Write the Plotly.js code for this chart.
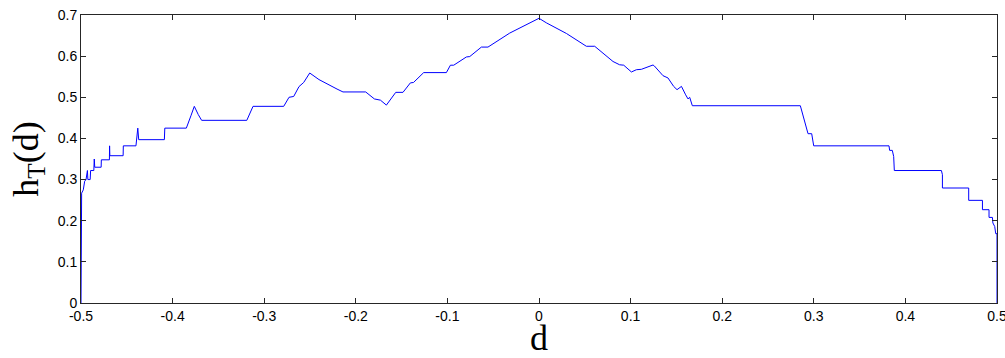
<!DOCTYPE html>
<html>
<head>
<meta charset="utf-8">
<script src="https://cdn.plot.ly/plotly-3.0.1.min.js"></script>
<style>html,body{margin:0;padding:0;background:#fff;}#chart{width:1005px;height:358px;}</style>
</head>
<body>
<div id="chart"></div>
<script>
// d values (x) and h_T(d) values (y)
const dValues = [
  -0.5, -0.5, -0.4993, -0.4975, -0.4960, -0.4945, -0.4930, -0.4925, -0.4900, -0.4895,
  -0.4860, -0.4855, -0.4850, -0.4780, -0.4778, -0.4690, -0.4688, -0.4685, -0.4540, -0.4538,
  -0.4400, -0.4380, -0.4370, -0.4090, -0.4085, -0.3850, -0.3800, -0.3763, -0.3720, -0.3683,
  -0.3190, -0.3122, -0.2787, -0.2729, -0.2678, -0.2620, -0.2569, -0.2503, -0.2402, -0.2321,
  -0.2249, -0.2205, -0.2140, -0.1892, -0.1797, -0.1731, -0.1666, -0.1564, -0.1485, -0.1404,
  -0.1370, -0.1259, -0.1011, -0.0967, -0.0931, -0.0793, -0.0756, -0.0629, -0.0557, -0.0320,
  0.0, 0.0080, 0.0300, 0.0517, 0.0608, 0.0736, 0.0808, 0.0880, 0.0925, 0.1009,
  0.1063, 0.1118, 0.1245, 0.1260, 0.1354, 0.1408, 0.1470, 0.1507, 0.1555, 0.1601,
  0.1627, 0.1645, 0.1674, 0.2853, 0.2868, 0.2882, 0.2900, 0.2919, 0.2937, 0.2977,
  0.2985, 0.2999, 0.3821, 0.3828, 0.3857, 0.3872, 0.3879, 0.4393, 0.4404, 0.4404,
  0.4691, 0.4691, 0.4841, 0.4841, 0.4913, 0.4913, 0.4950, 0.4955, 0.4975, 0.4986,
  0.5, 0.5
];
const hValues = [
  0, 0.251, 0.267, 0.275, 0.296, 0.300, 0.322, 0.300, 0.300, 0.322,
  0.322, 0.350, 0.330, 0.330, 0.348, 0.348, 0.382, 0.358, 0.358, 0.382,
  0.382, 0.425, 0.397, 0.397, 0.425, 0.425, 0.455, 0.478, 0.458, 0.444,
  0.444, 0.478, 0.478, 0.500, 0.502, 0.526, 0.536, 0.559, 0.543, 0.533,
  0.526, 0.520, 0.513, 0.513, 0.496, 0.493, 0.481, 0.512, 0.512, 0.535,
  0.536, 0.560, 0.560, 0.578, 0.578, 0.598, 0.599, 0.622, 0.622, 0.656,
  0.692, 0.681, 0.655, 0.624, 0.624, 0.599, 0.587, 0.579, 0.578, 0.5615,
  0.567, 0.568, 0.5785, 0.576, 0.5525, 0.547, 0.5265, 0.5185, 0.5265, 0.506,
  0.496, 0.500, 0.4795, 0.4795, 0.466, 0.4535, 0.4375, 0.421, 0.4115, 0.4115,
  0.397, 0.382, 0.382, 0.371, 0.371, 0.356, 0.322, 0.322, 0.312, 0.2795,
  0.2795, 0.2495, 0.2495, 0.2268, 0.2268, 0.208, 0.208, 0.1945, 0.186, 0.1685,
  0.1685, 0
];
const xTickVals = [-0.5, -0.4, -0.3, -0.2, -0.1, 0, 0.1, 0.2, 0.3, 0.4, 0.5];
const xTickText = ["-0.5", "-0.4", "-0.3", "-0.2", "-0.1", "0", "0.1", "0.2", "0.3", "0.4", "0.5"];
const yTickVals = [0, 0.1, 0.2, 0.3, 0.4, 0.5, 0.6, 0.7];
const yTickText = ["0", "0.1", "0.2", "0.3", "0.4", "0.5", "0.6", "0.7"];

const trace = {
  x: dValues, y: hValues, type: 'scatter', mode: 'lines',
  line: {color: '#0000ff', width: 1}, hoverinfo: 'skip', cliponaxis: false
};
const axisCommon = {
  showgrid: false, zeroline: false, showline: true, linecolor: '#262626', linewidth: 1,
  mirror: 'ticks', ticks: 'inside', ticklen: 5, tickwidth: 1, tickcolor: '#262626',
  tickfont: {family: 'Liberation Sans, Arial, sans-serif', size: 14, color: '#000'},
  tickmode: 'array', ticklabeloverflow: 'allow'
};
const layout = {
  width: 1005, height: 358,
  margin: {l: 81, r: 8, t: 15, b: 55},
  paper_bgcolor: '#fff', plot_bgcolor: '#fff',
  showlegend: false,
  xaxis: Object.assign({}, axisCommon, {
    range: [-0.5, 0.5], tickvals: xTickVals, ticktext: xTickText,
    title: {text: 'd', font: {family: 'Liberation Serif, Times New Roman, serif', size: 36, color: '#000'}, standoff: 4}
  }),
  yaxis: Object.assign({}, axisCommon, {
    range: [0, 0.7], tickvals: yTickVals, ticktext: yTickText,
    title: {text: 'h<sub>T</sub>(d)', font: {family: 'Liberation Serif, Times New Roman, serif', size: 36, color: '#000'}, standoff: 8}
  })
};
Plotly.newPlot('chart', [trace], layout, {displayModeBar: false, staticPlot: true});
</script>
</body>
</html>
